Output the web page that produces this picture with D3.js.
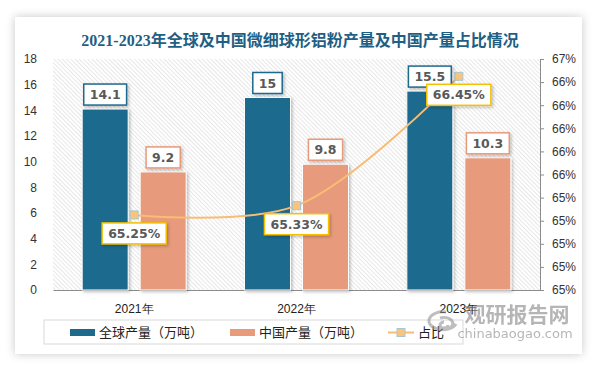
<!DOCTYPE html>
<html>
<head>
<meta charset="utf-8">
<script src="https://cdn.jsdelivr.net/npm/d3@7"></script>
<style>
  body { margin: 0; background: #fff; }
  svg { display: block; font-family: "DejaVu Sans", "Noto Sans CJK SC", sans-serif; }
</style>
</head>
<body>
<div id="chart"></div>
<script>
// data
var years = ["2021年", "2022年", "2023年"];
var seriesNames = ["全球产量（万吨）", "中国产量（万吨）"];
var globalOutput = [14.1, 15, 15.5];
var chinaOutput = [9.2, 9.8, 10.3];
var shareValues = [65.25, 65.33, 66.45];
var leftTicks = [0, 2, 4, 6, 8, 10, 12, 14, 16, 18];
var rightTicks = [64.6, 64.8, 65.0, 65.2, 65.4, 65.6, 65.8, 66.0, 66.2, 66.4, 66.6];

var svgWidth = 594;
var svgHeight = 366;

var margin = { top: 59, right: 54, bottom: 76, left: 53 };
var width = svgWidth - margin.left - margin.right;
var height = svgHeight - margin.top - margin.bottom;

var blue = "#1d6a8d";
var orange = "#e89b7b";
var lineColor = "#f8bd74";
var gold = "#f5c000";

var svg = d3.select("#chart")
  .append("svg")
  .attr("width", svgWidth)
  .attr("height", svgHeight);

var defs = svg.append("defs");

// card shadow
var shadow = defs.append("filter").attr("id", "cardShadow")
  .attr("x", "-10%").attr("y", "-10%").attr("width", "120%").attr("height", "120%");
shadow.append("feDropShadow")
  .attr("dx", 0).attr("dy", 0).attr("stdDeviation", 5)
  .attr("flood-color", "#000").attr("flood-opacity", 0.22);

var barShadow = defs.append("filter").attr("id", "barShadow")
  .attr("x", "-20%").attr("y", "-20%").attr("width", "140%").attr("height", "140%");
barShadow.append("feDropShadow")
  .attr("dx", 1.5).attr("dy", 1.5).attr("stdDeviation", 1.5)
  .attr("flood-color", "#000").attr("flood-opacity", 0.25);

// hatched plot background
var hatch = defs.append("pattern").attr("id", "hatch")
  .attr("patternUnits", "userSpaceOnUse")
  .attr("width", 3).attr("height", 3)
  .attr("patternTransform", "rotate(-45)");
hatch.append("rect").attr("width", 3).attr("height", 3).attr("fill", "#fff");
hatch.append("line")
  .attr("x1", 0).attr("y1", 0).attr("x2", 0).attr("y2", 3)
  .attr("stroke", "#cfcfcf").attr("stroke-width", 1);

svg.append("rect")
  .attr("x", 15).attr("y", 17)
  .attr("width", 567).attr("height", 337)
  .attr("fill", "#fff")
  .attr("filter", "url(#cardShadow)");

// title
svg.append("text")
  .attr("x", 300).attr("y", 46)
  .attr("text-anchor", "middle")
  .style("font-family", "'Liberation Serif', 'Noto Sans CJK SC', serif")
  .style("font-size", "16px")
  .style("font-weight", "bold")
  .attr("fill", "#1f5f84")
  .text("2021-2023年全球及中国微细球形铝粉产量及中国产量占比情况");

var chartGroup = svg.append("g")
  .attr("transform", `translate(${margin.left}, ${margin.top})`);

chartGroup.append("rect")
  .attr("width", width).attr("height", height)
  .attr("fill", "url(#hatch)");

// scales
var x0 = d3.scaleBand().domain(years).range([0, width]);
var x1 = d3.scaleBand().domain(seriesNames).range([-52, 52]).paddingInner(12 / 58);
var yLeft = d3.scaleLinear().domain([0, 18]).range([height, 0]);
var yRight = d3.scaleLinear().domain([64.6, 66.6]).range([height, 0]);

// left axis, labels only
var leftAxis = d3.axisLeft(yLeft).tickValues(leftTicks).tickSize(0).tickPadding(16);
var gLeft = chartGroup.append("g").call(leftAxis);
gLeft.select(".domain").remove();
gLeft.selectAll("text").style("font-size", "12px").attr("fill", "#333");

// right axis
var rightAxis = d3.axisRight(yRight).tickValues(rightTicks).tickSize(4).tickPadding(8)
  .tickFormat(d => d3.format(".0f")(d) + "%");
var gRight = chartGroup.append("g")
  .attr("transform", `translate(${width}, 0)`)
  .call(rightAxis);
gRight.select(".domain").attr("stroke", "#8c8c8c");
gRight.selectAll(".tick line").attr("stroke", "#8c8c8c");
gRight.selectAll("text").style("font-size", "12px").attr("fill", "#333");

// bottom axis
var bottomAxis = d3.axisBottom(x0).tickSize(0).tickPadding(14);
var gBottom = chartGroup.append("g")
  .attr("transform", `translate(0, ${height})`)
  .call(bottomAxis);
gBottom.select(".domain").attr("stroke", "#8c8c8c");
gBottom.selectAll("text").style("font-size", "12px").attr("fill", "#222");

// bars
var barData = [];
years.forEach((yr, i) => {
  barData.push({ year: yr, name: seriesNames[0], value: globalOutput[i], color: blue });
  barData.push({ year: yr, name: seriesNames[1], value: chinaOutput[i], color: orange });
});

chartGroup.selectAll(".bar")
  .data(barData)
  .enter()
  .append("rect")
  .attr("class", "bar")
  .attr("x", d => x0(d.year) + x0.bandwidth() / 2 + x1(d.name))
  .attr("y", d => yLeft(d.value))
  .attr("width", x1.bandwidth())
  .attr("height", d => height - yLeft(d.value))
  .attr("fill", d => d.color)
  .attr("stroke", "#fff")
  .attr("stroke-width", 1)
  .attr("filter", "url(#barShadow)");

// share line
var shareData = years.map((yr, i) => ({ year: yr, value: shareValues[i] }));
var cx = d => x0(d.year) + x0.bandwidth() / 2;

var line = d3.line()
  .x(cx)
  .y(d => yRight(d.value))
  .curve(d3.curveCatmullRom);

chartGroup.append("path")
  .datum(shareData)
  .attr("d", line)
  .attr("fill", "none")
  .attr("stroke", lineColor)
  .attr("stroke-width", 2);

chartGroup.selectAll(".marker")
  .data(shareData)
  .enter()
  .append("rect")
  .attr("class", "marker")
  .attr("x", d => cx(d) - 4)
  .attr("y", d => yRight(d.value) - 4)
  .attr("width", 8).attr("height", 8)
  .attr("fill", "#fbc47a")
  .attr("stroke", "#a9c6cf")
  .attr("stroke-width", 1);

// boxed data label
function boxLabel(g, xc, yTop, txt, border) {
  var t = g.append("text")
    .attr("x", xc).attr("y", yTop + 15)
    .attr("text-anchor", "middle")
    .style("font-size", "12.5px")
    .style("font-weight", "bold")
    .attr("fill", "#595959")
    .text(txt);
  var w = t.node().getComputedTextLength() + 12;
  g.insert("rect", function() { return t.node(); })
    .attr("x", xc - w / 2).attr("y", yTop)
    .attr("width", w).attr("height", 21)
    .attr("fill", "#fff")
    .attr("stroke", border)
    .attr("stroke-width", 1.5)
    .attr("filter", "url(#barShadow)");
}

var labelGroup = chartGroup.append("g");
barData.forEach(d => {
  var xc = x0(d.year) + x0.bandwidth() / 2 + x1(d.name) + x1.bandwidth() / 2;
  boxLabel(labelGroup, xc, yLeft(d.value) - 25, String(d.value), d.color);
});
shareData.forEach(d => {
  boxLabel(labelGroup, cx(d), yRight(d.value) + 8, d3.format(".2f")(d.value) + "%", gold);
});

// legend
var legend = svg.append("g");
legend.append("rect")
  .attr("x", 44).attr("y", 320)
  .attr("width", 419).attr("height", 24)
  .attr("fill", "#fff")
  .attr("stroke", "#d9d9d9");

legend.append("rect").attr("x", 70).attr("y", 329).attr("width", 25).attr("height", 7).attr("fill", blue);
legend.append("text").attr("x", 99).attr("y", 337).style("font-size", "13px").attr("fill", "#222").text(seriesNames[0]);
legend.append("rect").attr("x", 230).attr("y", 329).attr("width", 25).attr("height", 7).attr("fill", orange);
legend.append("text").attr("x", 259).attr("y", 337).style("font-size", "13px").attr("fill", "#222").text(seriesNames[1]);
legend.append("line").attr("x1", 388).attr("x2", 414).attr("y1", 332.5).attr("y2", 332.5)
  .attr("stroke", lineColor).attr("stroke-width", 2);
legend.append("rect").attr("x", 397).attr("y", 328.5).attr("width", 8).attr("height", 8)
  .attr("fill", "#fbc47a").attr("stroke", "#a9c6cf");
legend.append("text").attr("x", 418).attr("y", 337).style("font-size", "13px").attr("fill", "#222").text("占比");

// watermark
var wm = svg.append("g").attr("opacity", 0.55);
wm.append("path")
  .attr("d", "M446,312 a14,9 0 1,0 10,12 M440,318 a9,6 0 1,1 -2,10 M444,322 a4,3 0 1,0 4,3")
  .attr("fill", "none").attr("stroke", "#8a8a8a").attr("stroke-width", 3);
wm.append("text")
  .attr("x", 517).attr("y", 322)
  .attr("text-anchor", "middle")
  .style("font-family", "'Noto Sans CJK SC', sans-serif")
  .style("font-size", "21px").style("font-weight", "bold")
  .attr("fill", "#7a7a7a")
  .text("观研报告网");
wm.append("text")
  .attr("x", 515).attr("y", 338)
  .attr("text-anchor", "middle")
  .style("font-size", "13px")
  .attr("fill", "#7a7a7a")
  .text("chinabaogao.com");
</script>
</body>
</html>
